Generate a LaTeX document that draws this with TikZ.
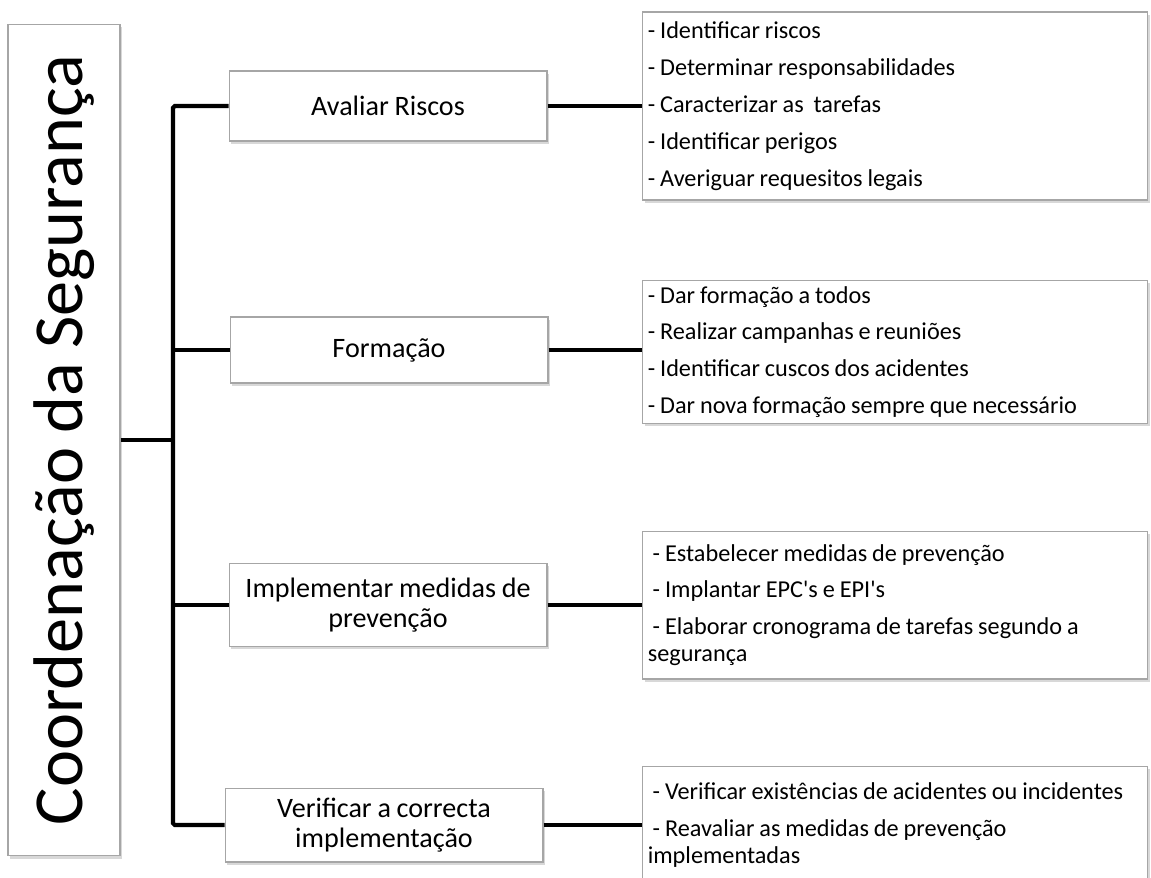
\documentclass[tikz,border=0pt]{standalone}
\usepackage{fontspec}
\setmainfont{Carlito}[WordSpace=0.9]
\usetikzlibrary{shadows}
\newcommand{\lgap}{\\[5.7pt]}

\begin{document}
\hyphenpenalty=10000
\exhyphenpenalty=10000
\begin{tikzpicture}[
        x=0.02cm, y=-0.02cm,
        frame/.style={draw=black!35, line width=0.6pt, fill=white,
            drop shadow={shadow xshift=1.2pt, shadow yshift=-1.6pt, opacity=0.3}},
        titlebox/.style={frame, minimum width=2.24cm, minimum height=16.64cm, inner sep=0pt},
        stepbox/.style={frame, minimum width=6.36cm, align=center, inner sep=2pt,
            font=\fontsize{16}{17.5}\selectfont},
        listbox/.style={frame, minimum width=10.1cm, text width=9.89cm, inner xsep=3pt,
            align=flush left, font=\fontsize{13.8}{15.3}\selectfont},
        link/.style={line width=2.4pt}
    ]
        \fill[white] (0,0) rectangle (1151,877);
        \useasboundingbox (0,0) rectangle (1151,877);

        % Title and steps
        \node[titlebox] (coord) at (64,440)
            {\rotatebox{90}{\fontsize{40}{48}\selectfont Coordenação da Segurança}};
        \node[stepbox, minimum height=1.4cm] (avaliar) at (388,106) {Avaliar Riscos};
        \node[stepbox, minimum height=1.32cm] (formacao) at (389,350) {Formação};
        \node[stepbox, minimum height=1.66cm] (implementar) at (388,605) {Implementar medidas de\\ prevenção};
        \node[stepbox, minimum height=1.48cm] (verificar) at (384,825) {Verificar a correcta\\ implementação};

        % Task lists
        \node[listbox, minimum height=3.76cm] (riscos) at (895,106) {- Identificar riscos\lgap
            - Determinar responsabilidades\lgap
            - Caracterizar as\ \ tarefas\lgap
            - Identificar perigos\lgap
            - Averiguar requesitos legais};
        \node[listbox, minimum height=2.86cm] (formar) at (895,352) {- Dar formação a todos\lgap
            - Realizar campanhas e reuniões\lgap
            - Identificar cuscos dos acidentes\lgap
            - Dar nova formação sempre que necessário};
        \node[listbox, minimum height=2.96cm] (medidas) at (895,605) {\ - Estabelecer medidas de prevenção\lgap
            \ - Implantar EPC\textquotesingle s e EPI\textquotesingle s\lgap
            \ - Elaborar cronograma de tarefas segundo a\\ segurança};
        \node[listbox, minimum height=2.36cm] (verif) at (895,825) {\ - Verificar existências de acidentes ou incidentes\lgap
            \ - Reavaliar as medidas de prevenção\\ implementadas};

        % Connectors
        \coordinate (trunk) at (173,440);
        \draw[link] (coord.east) -- (coord.east -| trunk);
        \draw[link, rounded corners=1pt] (avaliar.west) -| (trunk) |- (verificar.west);
        \draw[link] (formacao.west) -- (formacao.west -| trunk);
        \draw[link] (implementar.west) -- (implementar.west -| trunk);
        \foreach \s/\t in {avaliar/riscos, formacao/formar, implementar/medidas, verificar/verif}
            \draw[link] (\s.east) -- (\t.west |- \s.east);
\end{tikzpicture}
\end{document}
